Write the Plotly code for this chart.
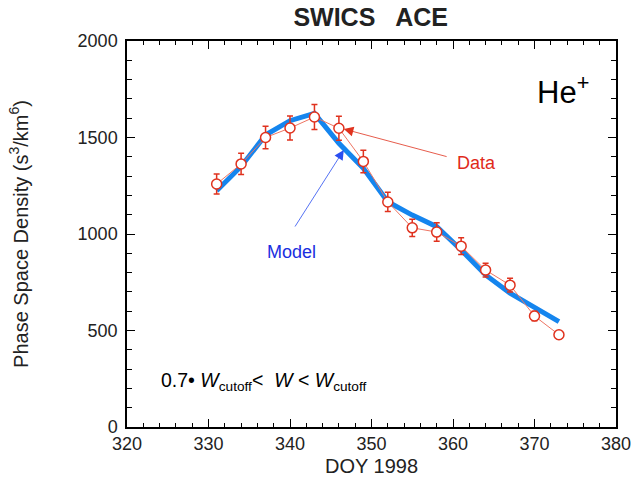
import plotly.graph_objects as go

# DOY 1998 and phase space density of He+ (s^3/km^6)
doy = [331, 334, 337, 340, 343, 346, 349, 352, 355, 358, 361, 364, 367, 370, 373]
psd_data = [1259, 1363, 1500, 1549, 1606, 1548, 1376, 1166, 1032, 1010, 937, 813, 735, 575, 478]
psd_err = [52, 55, 58, 62, 65, 62, 58, 50, 45, 48, 43, 36, 36, 25, 20]
psd_model = [1224, 1350, 1513, 1587, 1625, 1470, 1340, 1167, 1098, 1038, 917, 788, 693, 623, 546]

FONT = "Liberation Sans, Arial, Helvetica, sans-serif"

fig = go.Figure()

# Modell (dicke blaue Linie)
fig.add_trace(go.Scatter(
    x=doy, y=psd_model, mode="lines",
    line=dict(color="#1585ee", width=5),
    showlegend=False
))

# Messdaten mit Fehlerbalken
fig.add_trace(go.Scatter(
    x=doy, y=psd_data, mode="lines+markers",
    line=dict(color="#ee7563", width=1),
    marker=dict(symbol="circle", size=10, color="white",
                line=dict(color="#e0321e", width=1.5)),
    error_y=dict(type="data", array=psd_err, color="#e0321e",
                 thickness=1.5, width=3),
    showlegend=False
))

# Pfeile und Beschriftungen
fig.add_annotation(x=346.6, y=1544, ax=359.4, ay=1399, xref="x", yref="y",
                   axref="x", ayref="y", showarrow=True, arrowhead=2,
                   arrowsize=2.4, arrowwidth=0.8, arrowcolor="#e0321e", text="")
fig.add_annotation(x=346.6, y=1435, ax=340.5, ay=1031, xref="x", yref="y",
                   axref="x", ayref="y", showarrow=True, arrowhead=2,
                   arrowsize=2.4, arrowwidth=0.8, arrowcolor="#2a4ef0", text="")
fig.add_annotation(x=360.2, y=1368, text="Data", showarrow=False,
                   xanchor="left", yanchor="middle",
                   font=dict(family=FONT, size=18, color="#e02a1a"))
fig.add_annotation(x=336.9, y=907, text="Model", showarrow=False,
                   xanchor="left", yanchor="middle",
                   font=dict(family=FONT, size=18, color="#1a2ee0"))
fig.add_annotation(x=370.0, y=1746, text="He<sup>+</sup>", showarrow=False,
                   xanchor="left", yanchor="middle",
                   font=dict(family=FONT, size=31, color="black"))
fig.add_annotation(x=323.9, y=238,
                   text="0.7\u2022 <i>W</i><sub>cutoff</sub>&lt;  <i>W</i> &lt; <i>W</i><sub>cutoff</sub>",
                   showarrow=False, xanchor="left", yanchor="middle",
                   font=dict(family=FONT, size=19.5, color="black"))

axis_common = dict(
    showline=True, linecolor="black", linewidth=1.5, mirror="allticks",
    ticks="inside", ticklen=8, tickwidth=1, tickcolor="black",
    showgrid=False, zeroline=False, automargin=False,
    tickfont=dict(family=FONT, size=18, color="#222"),
)

fig.update_xaxes(
    range=[320, 380], dtick=10, tick0=320,
    minor=dict(dtick=2, ticks="inside", ticklen=4, tickcolor="black"),
    title=dict(text="DOY 1998", font=dict(family=FONT, size=20, color="#222"), standoff=6),
    **axis_common
)
fig.update_yaxes(
    range=[0, 2000], dtick=500, tick0=0, ticklabelstandoff=4,
    minor=dict(dtick=100, ticks="inside", ticklen=5, tickcolor="black"),
    title=dict(text="Phase Space Density (s<sup>3</sup>/km<sup>6</sup>)",
               font=dict(family=FONT, size=20, color="#222"), standoff=44),
    **axis_common
)

fig.update_layout(
    width=637, height=479,
    margin=dict(l=127, r=21, t=41, b=52),
    paper_bgcolor="white", plot_bgcolor="white",
    title=dict(text="<b>SWICS   ACE</b>", x=0.582, xanchor="center", y=0.965, yanchor="middle",
               font=dict(family=FONT, size=25, color="#222")),
)

# Browser-Rand entfernen, damit die Figur genau ins Fenster passt
fig.write_html("out.html", config={"displayModeBar": False},
               post_script="document.body.style.margin='0';document.body.style.overflow='hidden';")
